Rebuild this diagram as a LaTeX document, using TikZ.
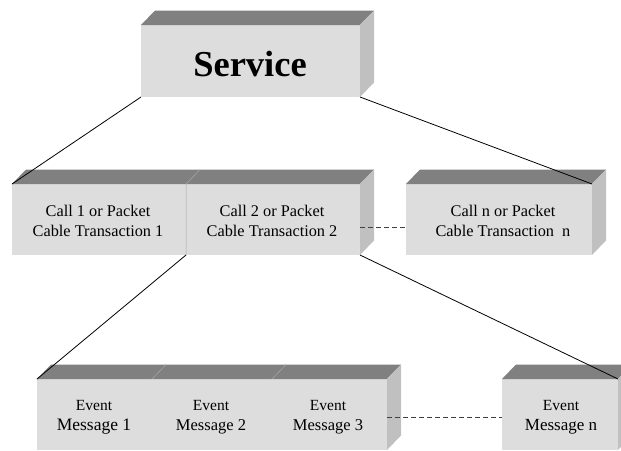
\documentclass[tikz,border=0pt]{standalone}
\usepackage{fontspec}
\setmainfont{Liberation Serif}
\definecolor{frontc}{HTML}{DDDDDD}
\definecolor{topc}{HTML}{808080}
\definecolor{sidec}{HTML}{C0C0C0}
\definecolor{divc}{HTML}{A8A8A8}
\newcommand\boxfaces[1]{%
  \fill[topc] (#1.north west) -- ++(14pt,14.5pt) -- ([shift={(14pt,14.5pt)}]#1.north east) -- (#1.north east) -- cycle;
  \fill[sidec] (#1.north east) -- ++(14pt,14.5pt) -- ([shift={(14pt,14.5pt)}]#1.south east) -- (#1.south east) -- cycle;}
\tikzset{
  front/.style={fill=frontc, draw=none, inner sep=0pt, outer sep=0pt, rectangle},
  conn/.style={draw=black, line width=0.8pt},
  dashline/.style={draw=black!75, line width=1pt, dash pattern=on 5pt off 3pt},
  divline/.style={draw=divc, line width=0.5pt},
  calltext/.style={font=\fontsize{16.3}{20}\selectfont, align=center, inner sep=0pt},
  evtext/.style={font=\fontsize{16}{20}\selectfont, align=center, inner sep=0pt}
}
\begin{document}
\begin{tikzpicture}[x=1pt, y=-1pt]
\useasboundingbox (0,0) rectangle (621,450);
\clip (0,0) rectangle (621,450);
% boxes
\node[front, minimum width=219pt, minimum height=72pt] (svc) at (250.5,61) {};
\boxfaces{svc}
\node[front, minimum width=348pt, minimum height=71pt] (row1) at (186,219.5) {};
\boxfaces{row1}
\node[front, minimum width=186pt, minimum height=71pt] (calln) at (499,219.5) {};
\boxfaces{calln}
\node[front, minimum width=350pt, minimum height=71pt] (row2) at (212,414.5) {};
\boxfaces{row2}
\node[front, minimum width=116pt, minimum height=71pt] (evn) at (560,414.5) {};
\boxfaces{evn}
% dividers
\coordinate (d1) at (186,255);
\coordinate (d1t) at (186,184);
\draw[divline] (d1) -- (d1t) -- ++(14pt,14.5pt);
\coordinate (d2) at (152,379);
\coordinate (d3) at (272,379);
\draw[divline] (d2) -- ++(14pt,14.5pt);
\draw[divline] (d3) -- ++(14pt,14.5pt);
% texts
\node[font=\fontsize{36.5}{40}\selectfont\bfseries, inner sep=0pt] (svct) at (250,64) {Service};
\node[calltext] (c1) at (98,221) {Call 1 or Packet\\Cable Transaction 1};
\node[calltext] (c2) at (272,221) {Call 2 or Packet\\Cable Transaction 2};
\node[calltext] (cn) at (503,221) {Call n or Packet\\Cable Transaction\ \ n};
\node[evtext] (e1) at (94,417) {{\fontsize{15.5}{20}\selectfont Event}\\{\fontsize{17.5}{20}\selectfont Message 1}};
\node[evtext] (e2) at (211,417) {{\fontsize{15.5}{20}\selectfont Event}\\{\fontsize{16.5}{20}\selectfont Message 2}};
\node[evtext] (e3) at (328,417) {{\fontsize{15.5}{20}\selectfont Event}\\{\fontsize{16.5}{20}\selectfont Message 3}};
\node[evtext] (en) at (561,417) {{\fontsize{15.5}{20}\selectfont Event}\\{\fontsize{17}{20}\selectfont Message n}};
% connectors
\draw[conn] (svc.south west) -- (row1.north west);
\draw[conn] (svc.south east) -- (calln.north east);
\draw[conn] (d1) -- (row2.north west);
\draw[conn] (row1.south east) -- (evn.north east);
\draw[dashline] ([yshift=-7.5pt]row1.east) -- ([yshift=-7.5pt]calln.west);
\draw[dashline] ([yshift=-2.5pt]row2.east) -- ([yshift=-2.5pt]evn.west);
\end{tikzpicture}
\end{document}
